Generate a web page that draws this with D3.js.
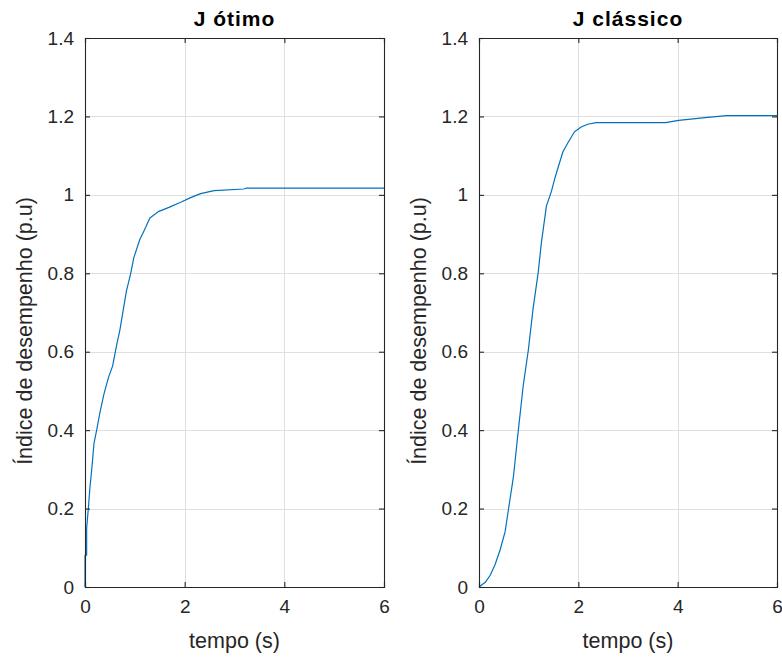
<!DOCTYPE html>
<html>
<head>
<meta charset="utf-8">
<script src="https://cdn.jsdelivr.net/npm/d3@7"></script>
<style>
  html, body { margin: 0; padding: 0; background: #fff; }
  svg { display: block; font-family: Arial, "Liberation Sans", Helvetica, sans-serif; }
</style>
</head>
<body>
<svg id="chart" width="782" height="657"></svg>
<script>
// Time samples (s) and performance index (p.u) for the optimal J
const tOtimo = [0, 0, 0.033, 0.033, 0.067, 0.10, 0.14, 0.18, 0.234, 0.30, 0.38, 0.47, 0.555, 0.60, 0.646, 0.698, 0.765, 0.832, 0.913, 0.98, 1.10, 1.195, 1.302, 1.483, 1.685, 1.92, 2.12, 2.32, 2.59, 3.19, 3.23, 6];
const jOtimo = [0, 0.081, 0.081, 0.149, 0.20, 0.255, 0.306, 0.366, 0.40, 0.445, 0.492, 0.534, 0.564, 0.594, 0.624, 0.654, 0.705, 0.755, 0.797, 0.84, 0.886, 0.911, 0.941, 0.958, 0.968, 0.981, 0.993, 1.003, 1.011, 1.015, 1.017, 1.017];

// Time samples (s) and performance index (p.u) for the classical J
const tClassico = [0, 0.126, 0.226, 0.326, 0.426, 0.526, 0.592, 0.692, 0.792, 0.892, 0.992, 1.092, 1.191, 1.258, 1.358, 1.458, 1.524, 1.591, 1.69, 1.79, 1.923, 2.057, 2.19, 2.356, 3.754, 4.02, 4.552, 4.985, 6];
const jClassico = [0, 0.012, 0.030, 0.058, 0.095, 0.141, 0.197, 0.280, 0.400, 0.515, 0.603, 0.713, 0.801, 0.880, 0.972, 1.009, 1.041, 1.069, 1.110, 1.133, 1.161, 1.173, 1.180, 1.184, 1.184, 1.190, 1.197, 1.202, 1.202];

const xTicks = [0, 2, 4, 6];
const yTicks = [0, 0.2, 0.4, 0.6, 0.8, 1, 1.2, 1.4];
const titles = ["J ótimo", "J clássico"];
const xLabel = "tempo (s)";
const yLabel = "Índice de desempenho (p.u)";

const svg = d3.select("#chart");
const axisColor = "#262626";
const gridColor = "#dfdfdf";
const lineColor = "#0072BD";

const panels = [
  { left: 85, right: 384, t: tOtimo, j: jOtimo, title: titles[0], yLabX: 32 },
  { left: 479, right: 777, t: tClassico, j: jClassico, title: titles[1], yLabX: 426 }
];
const plotTop = 38, plotBottom = 587;

panels.forEach(p => {
  const x = d3.scaleLinear().domain([0, 6]).range([p.left, p.right]);
  const y = d3.scaleLinear().domain([0, 1.4]).range([plotBottom, plotTop]);
  const g = svg.append("g");

  // grid
  g.selectAll(".gx").data(xTicks.slice(1, -1)).join("line")
    .attr("x1", d => Math.round(x(d)) + 0.5).attr("x2", d => Math.round(x(d)) + 0.5)
    .attr("y1", plotTop).attr("y2", plotBottom)
    .attr("stroke", gridColor).attr("stroke-width", 1);
  g.selectAll(".gy").data(yTicks.slice(1, -1)).join("line")
    .attr("y1", d => Math.round(y(d)) + 0.5).attr("y2", d => Math.round(y(d)) + 0.5)
    .attr("x1", p.left).attr("x2", p.right)
    .attr("stroke", gridColor).attr("stroke-width", 1);

  // data line
  g.append("path").datum(p.j)
    .attr("d", d3.line().x((d, i) => x(p.t[i])).y(d => y(d)))
    .attr("fill", "none").attr("stroke", lineColor).attr("stroke-width", 1.2)
    .attr("stroke-linejoin", "round");

  // axes (ticks pointing inward, box on all four sides)
  const tickLen = 5;
  const axB = d3.axisBottom(x).tickValues(xTicks).tickSize(-tickLen).tickPadding(13).tickFormat(d3.format("d"));
  const axT = d3.axisTop(x).tickValues(xTicks).tickSize(-tickLen).tickFormat("");
  const axL = d3.axisLeft(y).tickValues(yTicks).tickSize(-tickLen).tickPadding(11)
    .tickFormat(d => d === 0 || d === 1 ? d3.format("d")(d) : d3.format(".1f")(d));
  const axR = d3.axisRight(y).tickValues(yTicks).tickSize(-tickLen).tickFormat("");

  [[axB, `translate(0,${plotBottom})`], [axT, `translate(0,${plotTop})`], [axL, `translate(${p.left},0)`], [axR, `translate(${p.right},0)`]]
    .forEach(([ax, tr]) => {
      const a = g.append("g").attr("transform", tr).call(ax)
        .attr("font-size", 19).attr("font-family", "Arial, 'Liberation Sans', sans-serif");
      a.select(".domain").attr("stroke", axisColor).attr("stroke-width", 1.1);
      a.selectAll(".tick line").attr("stroke", axisColor).attr("stroke-width", 1.1);
      a.selectAll(".tick text").attr("fill", axisColor);
    });

  // title
  g.append("text").attr("x", (p.left + p.right) / 2).attr("y", 26)
    .attr("text-anchor", "middle").attr("fill", "#000")
    .style("font-size", "21px").style("font-weight", "bold").style("letter-spacing", "1px")
    .text(p.title);

  // x label
  g.append("text").attr("x", (p.left + p.right) / 2).attr("y", 648)
    .attr("text-anchor", "middle").attr("fill", axisColor)
    .style("font-size", "21.5px").text(xLabel);

  // y label
  g.append("text").attr("transform", `translate(${p.yLabX},331) rotate(-90)`)
    .attr("text-anchor", "middle").attr("fill", axisColor)
    .style("font-size", "21.5px").text(yLabel);
});
</script>
</body>
</html>
